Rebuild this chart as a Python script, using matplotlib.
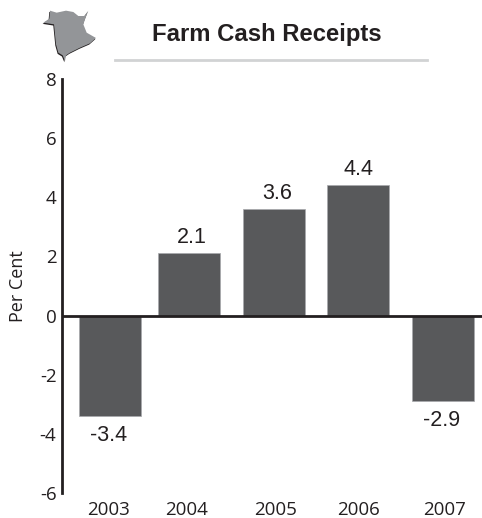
import matplotlib
matplotlib.use('Agg')
from matplotlib import pyplot as plt
from matplotlib.patches import Polygon
import numpy as np

plt.rcParams['font.family'] = ['Liberation Sans', 'DejaVu Sans']
plt.rcParams['axes.unicode_minus'] = False

years = ['2003', '2004', '2005', '2006', '2007']
values = [-3.4, 2.1, 3.6, 4.4, -2.9]
y_ticks = [-6, -4, -2, 0, 2, 4, 6, 8]

W, H = 482, 518
text_col = '#231f20'
bar_col = '#58595b'

# bars are not quite evenly spaced in the original, pixel centres
bar_centres = [110, 189, 274, 358, 442.5]
bar_width = 62
# the text does not sit exactly over the bars either
value_centres = [108.5, 192, 277, 359, 442]
year_centres = [109, 187, 276, 358, 445]

# outline of the province icon, in figure pixels
icon = np.array([(30, 14), (50, 20), (78, 14), (100, 18), (115, 30), (133, 30), (145, 14),
                 (135, 40), (130, 55), (140, 80), (168, 96), (150, 112), (120, 125),
                 (90, 140), (78, 148), (75, 165), (68, 148), (55, 140), (48, 115),
                 (42, 55), (10, 50), (28, 38)]) / 3.0 + [40, 6]

fig = plt.figure(figsize=(W / 100, H / 100), dpi=100)

# axes span: x 62..482 px, y from 8 at 79 px to -6 at 493 px
ax = fig.add_axes([62 / W, 1 - 493 / H, (W - 62) / W, (493 - 79) / H])
ax.set_xlim(62, W)
ax.set_ylim(-6, 8)

ax.bar(bar_centres, values, width=bar_width, color=bar_col, edgecolor='#a7a9ac', linewidth=0.5, zorder=2)
ax.axhline(0, color=text_col, linewidth=2, zorder=3)

for x, v in zip(value_centres, values):
    if v > 0:
        ax.annotate(f'{v:.1f}', (x, v), xytext=(0, 4), textcoords='offset points',
                    ha='center', va='bottom', fontsize=15.5, color=text_col)
    else:
        ax.annotate(f'{v:.1f}', (x, v), xytext=(0, -6.5), textcoords='offset points',
                    ha='center', va='top', fontsize=15.5, color=text_col)

for s in ['top', 'right', 'bottom']:
    ax.spines[s].set_visible(False)
ax.spines['left'].set_linewidth(2)
ax.spines['left'].set_color(text_col)

ax.set_xticks(year_centres)
ax.set_xticklabels(years, family='Open Sans')
ax.set_yticks(y_ticks)
ax.set_yticklabels([str(t) for t in y_ticks], family='Open Sans')
ax.tick_params(axis='x', length=0, pad=6, labelsize=13.5, labelcolor=text_col)
ax.tick_params(axis='y', length=0, pad=4, labelsize=13.5, labelcolor=text_col)
fig.text(18 / W, 1 - 286 / H, 'Per Cent', rotation=90, ha='center', va='center',
         fontsize=13, color=text_col, family='Open Sans')

fig.text(267 / W, 1 - 35 / H, 'Farm Cash Receipts', ha='center', va='center',
         fontsize=17.2, fontweight='bold', color=text_col)
fig.add_artist(plt.Line2D([115 / W, 427 / W], [1 - 59.5 / H, 1 - 59.5 / H], color='#d1d3d4', linewidth=2))

to_fig = lambda p: np.column_stack([p[:, 0] / W, 1 - p[:, 1] / H])
fig.add_artist(Polygon(to_fig(icon + [-0.7, 1.2]), closed=True, transform=fig.transFigure,
                       facecolor='#231f20', edgecolor='none'))
fig.add_artist(Polygon(to_fig(icon), closed=True, transform=fig.transFigure,
                       facecolor='#939598', edgecolor='none'))

fig.savefig('out.png', dpi=100)
